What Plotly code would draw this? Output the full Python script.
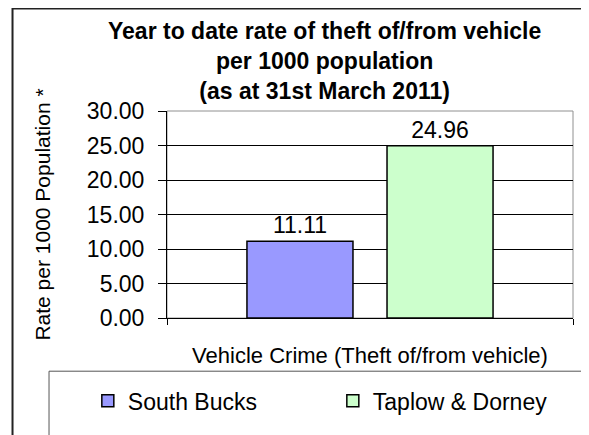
import plotly.graph_objects as go

categories = ["Vehicle Crime (Theft of/from vehicle)"]
series_names = ["South Bucks", "Taplow & Dorney"]
south_bucks = [11.11]
taplow_dorney = [24.96]
series_colors = ["#9999FF", "#CCFFCC"]
y_ticks = [0, 5, 10, 15, 20, 25, 30]
title_lines = ["Year to date rate of theft of/from vehicle",
               "per 1000 population",
               "(as at 31st March 2011)"]
y_title = "Rate per 1000 Population *"

FONT = "Liberation Sans, Arial, sans-serif"

fig = go.Figure()
for name, vals, col in zip(series_names, [south_bucks, taplow_dorney], series_colors):
    fig.add_trace(go.Bar(
        x=categories, y=vals, name=name,
        marker=dict(color=col, line=dict(color="black", width=1.5)),
        text=[f"{v:.2f}" for v in vals], textposition="outside",
        textfont=dict(size=23, color="black", family=FONT),
        cliponaxis=False,
    ))

# The page body has an 8px margin, so the figure is sized 581x427
fig.update_layout(
    width=581, height=427,
    margin=dict(l=159, r=16, t=103, b=114),
    paper_bgcolor="white", plot_bgcolor="white",
    barmode="group", bargap=0.31, bargroupgap=0.243,
    font=dict(family=FONT, color="black"),
    showlegend=True,
    legend=dict(orientation="h", x=-0.195, xanchor="left", y=-0.40, yanchor="middle",
                font=dict(size=23, family=FONT, color="black"),
                entrywidth=200, entrywidthmode="pixels",
                bgcolor="rgba(0,0,0,0)", borderwidth=0),
)

fig.add_annotation(text="<br>".join(title_lines), xref="paper", yref="paper",
                   x=0.389, y=1.243, xanchor="center", yanchor="middle",
                   showarrow=False,
                   font=dict(size=23, family=FONT, color="black", weight="bold"))

fig.update_yaxes(range=[0, 30], tickvals=y_ticks, tickformat=".2f",
                 showgrid=True, gridcolor="black", gridwidth=1,
                 ticks="outside", ticklen=8, tickcolor="black",
                 showline=True, linecolor="black", linewidth=1,
                 tickfont=dict(size=23, family=FONT, color="black"),
                 ticklabelstandoff=9,
                 title=dict(text=y_title, font=dict(size=21, family=FONT, color="black"), standoff=30),
                 zeroline=False, fixedrange=True)
fig.update_xaxes(ticks="outside", tickson="boundaries", ticklen=6, tickcolor="black",
                 showline=True, linecolor="black", linewidth=1,
                 tickfont=dict(size=22, family=FONT, color="black"),
                 ticklabelstandoff=18, fixedrange=True)

# plot area border (grey top/right)
fig.add_shape(type="rect", xref="paper", yref="paper", x0=0, x1=1, y0=0, y1=1,
              line=dict(color="#909090", width=1), layer="below")
# legend box
fig.add_shape(type="rect", xref="paper", yref="paper", x0=-0.2906, x1=1.3, y0=-0.8, y1=-0.257,
              line=dict(color="#555555", width=1))
# outer chart border
fig.add_shape(type="rect", xref="paper", yref="paper", x0=-0.3805, x1=1.3, y0=-0.9, y1=1.495,
              line=dict(color="#222222", width=2))

fig.write_html("out.html")
